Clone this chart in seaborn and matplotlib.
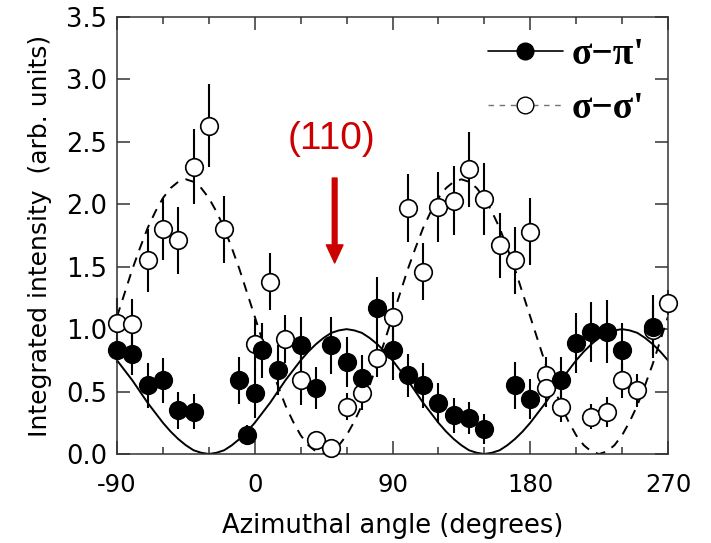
import matplotlib
matplotlib.use('Agg')
import matplotlib.pyplot as plt
import seaborn as sns
import pandas as pd
from matplotlib.lines import Line2D
from matplotlib.ticker import MultipleLocator

# measured points, sigma-pi' channel (filled circles)
angle_pi = [-90, -80, -70, -60, -50, -40, -10, -5, 0, 5, 15, 30, 40, 50, 60, 70, 80, 90,
            100, 110, 120, 130, 140, 150, 170, 180, 200, 210, 220, 230, 240, 260]
int_pi = [0.83, 0.80, 0.55, 0.59, 0.35, 0.34, 0.59, 0.15, 0.49, 0.83, 0.67, 0.87, 0.53, 0.87,
          0.74, 0.61, 1.17, 0.83, 0.63, 0.55, 0.41, 0.31, 0.29, 0.20, 0.55, 0.44, 0.59, 0.89,
          0.98, 0.98, 0.83, 1.02]
err_pi = [0.10, 0.17, 0.18, 0.18, 0.15, 0.14, 0.19, 0.08, 0.20, 0.22, 0.20, 0.23, 0.17, 0.23,
          0.20, 0.18, 0.25, 0.24, 0.17, 0.18, 0.16, 0.14, 0.13, 0.12, 0.19, 0.16, 0.19, 0.24,
          0.24, 0.25, 0.22, 0.25]

# measured points, sigma-sigma' channel (open circles)
angle_sig = [-90, -80, -70, -60, -50, -40, -30, -20, 0, 10, 20, 30, 40, 50, 60, 70, 80, 90,
             100, 110, 120, 130, 140, 150, 160, 170, 180, 190, 190, 200, 220, 230, 240, 250,
             260, 270]
int_sig = [1.05, 1.04, 1.55, 1.80, 1.71, 2.30, 2.63, 1.80, 0.88, 1.38, 0.92, 0.59, 0.11, 0.05,
           0.38, 0.49, 0.77, 1.10, 1.97, 1.46, 1.98, 2.03, 2.28, 2.04, 1.67, 1.55, 1.78, 0.63,
           0.53, 0.38, 0.30, 0.34, 0.59, 0.51, 0.99, 1.21]
err_sig = [0.20, 0.20, 0.25, 0.25, 0.27, 0.30, 0.33, 0.27, 0.20, 0.23, 0.19, 0.20, 0.05, 0.05,
           0.11, 0.14, 0.15, 0.20, 0.27, 0.23, 0.28, 0.28, 0.30, 0.29, 0.26, 0.27, 0.27, 0.15,
           0.15, 0.12, 0.10, 0.12, 0.14, 0.13, 0.20, 0.10]

# model curves every 5 degrees
angle_fit = list(range(-90, 275, 5))
fit_pi = [0.75, 0.67, 0.59, 0.50, 0.41, 0.33, 0.25, 0.18, 0.12, 0.07, 0.03, 0.01, 0.00, 0.01,
          0.03, 0.07, 0.12, 0.18, 0.25, 0.33, 0.41, 0.50, 0.59, 0.67, 0.75, 0.82, 0.88, 0.93,
          0.97, 0.99, 1.00, 0.99, 0.97, 0.93, 0.88, 0.82,
          0.75, 0.67, 0.59, 0.50, 0.41, 0.33, 0.25, 0.18, 0.12, 0.07, 0.03, 0.01, 0.00, 0.01,
          0.03, 0.07, 0.12, 0.18, 0.25, 0.33, 0.41, 0.50, 0.59, 0.67, 0.75, 0.82, 0.88, 0.93,
          0.97, 0.99, 1.00, 0.99, 0.97, 0.93, 0.88, 0.82, 0.75]
fit_sig = [1.10, 1.29, 1.48, 1.65, 1.81, 1.94, 2.05, 2.13, 2.18, 2.20, 2.18, 2.13, 2.05, 1.94,
           1.81, 1.65, 1.48, 1.29, 1.10, 0.91, 0.72, 0.55, 0.39, 0.26, 0.15, 0.07, 0.02, 0.00,
           0.02, 0.07, 0.15, 0.26, 0.39, 0.55, 0.72, 0.91,
           1.10, 1.29, 1.48, 1.65, 1.81, 1.94, 2.05, 2.13, 2.18, 2.20, 2.18, 2.13, 2.05, 1.94,
           1.81, 1.65, 1.48, 1.29, 1.10, 0.91, 0.72, 0.55, 0.39, 0.26, 0.15, 0.07, 0.02, 0.00,
           0.02, 0.07, 0.15, 0.26, 0.39, 0.55, 0.72, 0.91, 1.10]

df_pi = pd.DataFrame({'angle': angle_pi, 'intensity': int_pi, 'err': err_pi})
df_sig = pd.DataFrame({'angle': angle_sig, 'intensity': int_sig, 'err': err_sig})
df_fit = pd.DataFrame({'angle': angle_fit, 'pi': fit_pi, 'sig': fit_sig})

sns.set_style('ticks')
plt.rcParams['font.family'] = ['DejaVu Sans']
plt.rcParams['axes.unicode_minus'] = False
plt.rcParams['text.color'] = 'black'
plt.rcParams['axes.labelcolor'] = 'black'
plt.rcParams['xtick.labelcolor'] = 'black'
plt.rcParams['ytick.labelcolor'] = 'black'

fig = plt.figure(figsize=(7.11, 5.43), dpi=100)
ax = fig.add_axes([0.1646, 0.1639, 0.7749, 0.8048])

# fit curves
sns.lineplot(data=df_fit, x='angle', y='pi', color='black', linewidth=1.4, ax=ax, zorder=1)
sns.lineplot(data=df_fit, x='angle', y='sig', color='black', linewidth=1.4,
             linestyle=(0, (5, 4)), ax=ax, zorder=1)

# error bars
ax.errorbar(df_sig['angle'], df_sig['intensity'], yerr=df_sig['err'], fmt='none',
            ecolor='black', elinewidth=1.5, capsize=0, zorder=2, clip_on=False)
ax.errorbar(df_pi['angle'], df_pi['intensity'], yerr=df_pi['err'], fmt='none',
            ecolor='black', elinewidth=1.5, capsize=0, zorder=2, clip_on=False)

# points
sns.scatterplot(data=df_sig, x='angle', y='intensity', marker='o', s=160, color='white',
                edgecolor='black', linewidth=1.2, ax=ax, zorder=3, clip_on=False)
sns.scatterplot(data=df_pi, x='angle', y='intensity', marker='o', s=160, color='black',
                edgecolor='black', linewidth=1.2, ax=ax, zorder=4, clip_on=False)

ax.set_xlim(-90, 270)
ax.set_ylim(0, 3.5)
ax.set_xticks([-90, 0, 90, 180, 270])
ax.xaxis.set_minor_locator(MultipleLocator(30))
ax.set_yticks([0.0, 0.5, 1.0, 1.5, 2.0, 2.5, 3.0, 3.5])
ax.set_yticklabels(['0.0', '0.5', '1.0', '1.5', '2.0', '2.5', '3.0', '3.5'])
ax.tick_params(which='both', direction='in', top=True, right=True, color='0.2', width=1.1)
ax.tick_params(which='major', length=9.5)
ax.tick_params(which='minor', length=5)
ax.tick_params(axis='x', pad=14, labelsize=17.5)
ax.tick_params(axis='y', pad=7, labelsize=18.5)
for sp in ax.spines.values():
    sp.set_color('0.2')
    sp.set_linewidth(1.1)

ax.set_xlabel('Azimuthal angle (degrees)', fontsize=18.5, labelpad=11)
ax.set_ylabel('Integrated intensity  (arb. units)', fontsize=18, labelpad=10)

# annotation of the (110) direction
ax.text(50.1, 2.52, '(110)', color='#cc0000', fontsize=28, family='Liberation Sans',
        ha='center', va='center')
ax.annotate('', xy=(52.2, 1.53), xytext=(52.2, 2.21),
            arrowprops=dict(facecolor='#cc0000', edgecolor='#cc0000', width=3.4,
                            headwidth=12, headlength=13, shrink=0))

handles = [
    Line2D([], [], color='black', linewidth=1.2, marker='o', markersize=12,
           markerfacecolor='black', markeredgecolor='black'),
    Line2D([], [], color='0.45', linewidth=1.0, linestyle=(0, (4, 4)), marker='o',
           markersize=12, markerfacecolor='white', markeredgecolor='black'),
]
ax.legend(handles, ["\u03c3\u2212\u03c0'", "\u03c3\u2212\u03c3'"], loc='upper right',
          bbox_to_anchor=(0.958, 0.955), frameon=False, numpoints=1, handlelength=2.0,
          handletextpad=0.25, labelspacing=0.52, borderpad=0, borderaxespad=0,
          prop=dict(family=['Liberation Serif', 'DejaVu Serif'], weight='bold', size=27))

fig.savefig('out.png', dpi=100)
